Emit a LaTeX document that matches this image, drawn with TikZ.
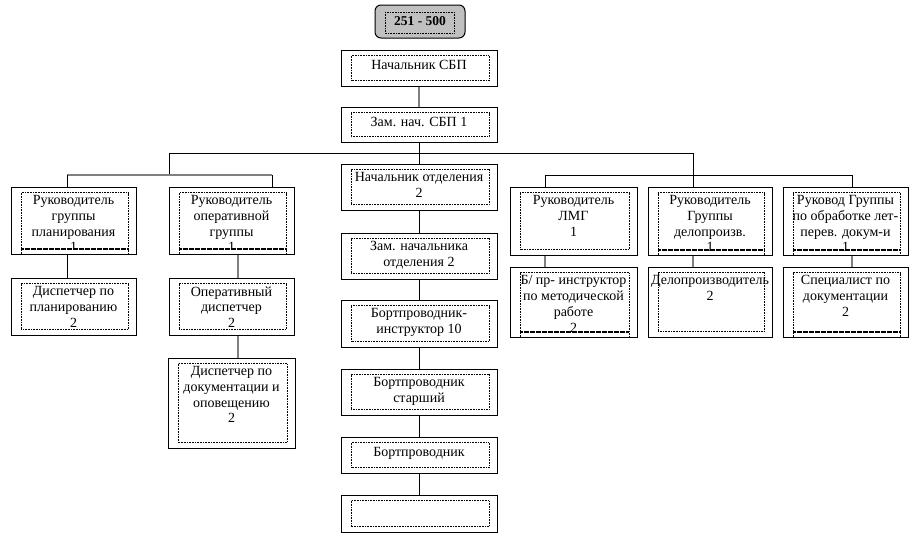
\documentclass[tikz,border=0pt]{standalone}
\usepackage{fontspec}
\setmainfont{Liberation Serif}
\usepackage{tikz}
\definecolor{linegray}{RGB}{128,128,128}
\definecolor{headgray}{RGB}{192,192,192}
\def\orgunit(#1)(#2,#3)(#4,#5)#6{%
	\node[unit, minimum width={#4-#2}, minimum height={#5-#3}] (#1) at ({(#2+#4)/2}, {(#3+#5)/2}) {};
	\draw[inner frame] (#2+10, #3+5.5) rectangle (#4-8, #5-5.5);
	\node[unit text] at ({(#2+#4)/2}, #3+8.5) {#6};
}
\def\orgunitcut(#1)(#2,#3)(#4,#5)#6{%
	\node[unit, minimum width={#4-#2}, minimum height={#5-#3}] (#1) at ({(#2+#4)/2}, {(#3+#5)/2}) {};
	\begin{scope}
		\clip (#2, #3) rectangle (#4, #5-5);
		\node[unit text] at ({(#2+#4)/2}, #3+8.5) {#6};
	\end{scope}
	\draw[inner frame] (#2+10, #5) -- (#2+10, #3+5.5) -- (#4-8, #3+5.5) -- (#4-8, #5);
	\draw[cut line] (#2+10, #5-5) -- (#4-8, #5-5);
}

\begin{document}
\begin{tikzpicture}[x=1pt, y=-1pt,
		unit/.style={draw, line width=1pt, inner sep=0pt},
		unit text/.style={anchor=north, align=center, inner sep=0pt, font={\fontsize{14}{15.7}\selectfont}, execute at begin node={\rule{0pt}{11pt}}},
		inner frame/.style={line width=0.7pt, dash pattern=on 0.7pt off 0.9pt},
		cut line/.style={line width=1.4pt, dash pattern=on 0.6pt off 0.6pt},
		wire/.style={line width=1pt},
		gray wire/.style={line width=1.6pt, draw=linegray}]
			%%%%% START %%%%%
			\useasboundingbox (0, 0) rectangle (920, 544);
			
			% head
			\node[draw, line width=1pt, rounded corners=6pt, fill=headgray, minimum width=90, minimum height=33, font={\fontsize{13.5}{15.5}\selectfont\bfseries}] (head) at (420, 21.5) {251 - 500};
			\draw[inner frame] (385, 12) rectangle (454, 33);
			
			% centre column
			\orgunit(chief)(341, 50)(497, 86){Начальник СБП}
			\orgunit(deputy)(341, 107)(497, 142){Зам. нач. СБП 1}
			\orgunit(dept)(341, 164)(497, 210){Начальник отделения\\2}
			\orgunit(ddept)(341, 233)(497, 279){Зам. начальника\\отделения 2}
			\orgunit(instr)(341, 300)(497, 347){Бортпроводник-\\инструктор 10}
			\orgunit(senior)(341, 369)(497, 415){Бортпроводник\\старший}
			\orgunit(attend)(341, 437)(497, 473){Бортпроводник}
			\orgunit(blank)(341, 495)(497, 532){}
			
			% groups
			\orgunitcut(plan)(11, 187)(136, 254){Руководитель\\группы\\планирования\\1}
			\orgunitcut(oper)(169, 187)(294, 254){Руководитель\\оперативной\\группы\\1}
			\orgunit(lmg)(510, 187)(637, 255){Руководитель\\ЛМГ\\1}
			\orgunitcut(office)(648, 187)(772, 255){Руководитель\\Группы\\делопроизв.\\1}
			\orgunitcut(docs)(783, 187)(908, 255){Руковод Группы\\по обработке лет-\\перев. докум-и\\1}
			
			\orgunit(plan2)(11, 278)(136, 335){Диспетчер по\\планированию\\2}
			\orgunit(oper2)(169, 278)(294, 335){Оперативный\\диспетчер\\2}
			\orgunit(oper3)(168, 358)(295, 448){Диспетчер по\\документации и\\оповещению\\2}
			\orgunitcut(lmg2)(510, 267)(637, 337){Б/ пр- инструктор\\по методической\\работе\\2}
			\orgunit(office2)(648, 267)(772, 337){Делопроизводитель\\2}
			\orgunitcut(docs2)(783, 267)(908, 337){Специалист по\\документации\\2}
			
			% connectors
			\coordinate (busL) at (169, 153);
			\coordinate (busR) at (693, 153);
			\coordinate (subL) at (169, 175);
			\coordinate (dropA) at (67, 175);
			\coordinate (dropB) at (272, 175);
			\coordinate (dropD) at (545, 175);
			\coordinate (dropF) at (852, 175);
			\coordinate (stemB) at (238, 300);
			
			\draw[gray wire] (chief) -- (deputy);
			\draw[wire] (deputy) -- (dept);
			\foreach \a/\b in {dept/ddept, ddept/instr, instr/senior, senior/attend, attend/blank}
				\draw[wire] (\a) -- (\b);
			
			\draw[wire] (busL) -- (busR);
			\draw[wire] (busL) -- (subL);
			\draw[gray wire] (dropA) -- (dropB);
			\draw[wire] (dropA) -- (dropA |- plan.north);
			\draw[wire] (dropB) -- (dropB |- oper.north);
			\draw[wire] (busR) -- (busR |- office.north);
			\draw[wire] (dropD) -- (dropF);
			\draw[wire] (dropD) -- (dropD |- lmg.north);
			\draw[wire] (dropF) -- (dropF |- docs.north);
			
			\draw[wire] (plan.south -| dropA) -- (plan2.north -| dropA);
			\draw[gray wire] (oper.south -| stemB) -- (oper2.north -| stemB);
			\draw[gray wire] (oper2.south -| stemB) -- (oper3.north -| stemB);
			\draw[gray wire] (lmg.south -| dropD) -- (lmg2.north -| dropD);
			\draw[gray wire] (office.south -| busR) -- (office2.north -| busR);
			\draw[gray wire] (docs.south -| dropF) -- (docs2.north -| dropF);
			
			%%%%% END %%%%%
\end{tikzpicture}
\end{document}
